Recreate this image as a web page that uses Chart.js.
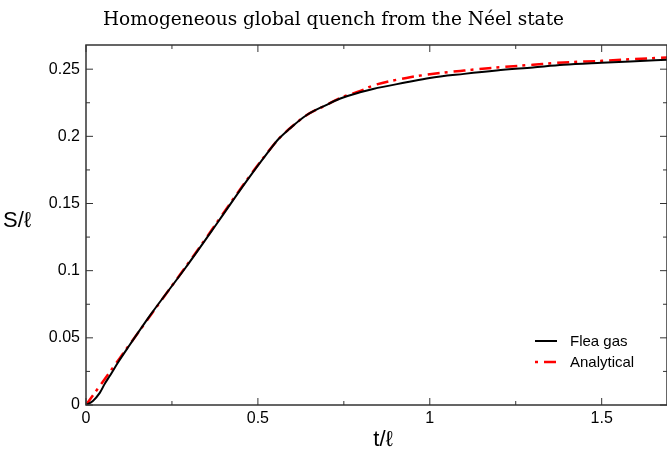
<!DOCTYPE html>
<html>
<head>
<meta charset="utf-8">
<script src="https://cdn.jsdelivr.net/npm/chart.js@4/dist/chart.umd.min.js"></script>
<style>
  html, body { margin: 0; padding: 0; background: #fff; }
  #wrap { width: 667px; height: 449px; }
</style>
</head>
<body>
<div id="wrap"><canvas id="myChart" width="667" height="449"></canvas></div>
<script>
// Flea gas (numerical) curve
var fleaT = [0, 0.02, 0.04, 0.055, 0.07, 0.094, 0.12, 0.19, 0.289, 0.386, 0.468, 0.529, 0.56, 0.592, 0.64, 0.7, 0.738, 0.8, 0.835, 0.932, 1.0, 1.1, 1.194, 1.3, 1.389, 1.5, 1.583, 1.69];
var fleaS = [0, 0.003, 0.009, 0.016, 0.022, 0.032, 0.042, 0.068, 0.102, 0.137, 0.167, 0.188, 0.198, 0.2056, 0.2155, 0.2235, 0.228, 0.233, 0.2353, 0.2402, 0.2435, 0.2465, 0.249, 0.2513, 0.2533, 0.2548, 0.2558, 0.257];

// Analytical curve
var anaT = [0, 0.3, 0.55, 0.58, 0.6, 0.64, 0.7, 0.738, 0.8, 0.835, 0.932, 1.0, 1.1, 1.194, 1.3, 1.389, 1.5, 1.583, 1.69];
var anaS = [0, 0.1065, 0.195, 0.203, 0.2075, 0.2155, 0.2235, 0.2285, 0.234, 0.2378, 0.2435, 0.2462, 0.249, 0.2512, 0.2533, 0.255, 0.2562, 0.2574, 0.2587];

var xMajor = [0, 0.5, 1, 1.5];
var xMinor = [0.25, 0.75, 1.25];
var yMajor = [0, 0.05, 0.1, 0.15, 0.2, 0.25];
var yMinor = [0.025, 0.075, 0.125, 0.175, 0.225];

var redDash = [12, 5, 3, 6];

function zip(xs, ys) {
  return xs.map(function (x, i) { return { x: x, y: ys[i] }; });
}

// frame, inward ticks, axis titles and legend
var decor = {
  id: "decor",
  afterDraw: function (chart) {
    var ctx = chart.ctx;
    var a = chart.chartArea;
    var xs = chart.scales.x, ys = chart.scales.y;
    ctx.save();
    ctx.strokeStyle = "#333";
    ctx.lineWidth = 1.5;
    ctx.strokeRect(a.left, a.top, a.right - a.left, a.bottom - a.top);
    ctx.lineWidth = 1;
    function xt(v, len) {
      var p = xs.getPixelForValue(v);
      ctx.beginPath();
      ctx.moveTo(p, a.bottom); ctx.lineTo(p, a.bottom - len);
      ctx.moveTo(p, a.top); ctx.lineTo(p, a.top + len);
      ctx.stroke();
    }
    function yt(v, len) {
      var p = ys.getPixelForValue(v);
      ctx.beginPath();
      ctx.moveTo(a.left, p); ctx.lineTo(a.left + len, p);
      ctx.moveTo(a.right, p); ctx.lineTo(a.right - len, p);
      ctx.stroke();
    }
    xMajor.forEach(function (v) { xt(v, 7); });
    xMinor.forEach(function (v) { xt(v, 4); });
    yMajor.forEach(function (v) { yt(v, 7); });
    yMinor.forEach(function (v) { yt(v, 4); });

    ctx.fillStyle = "#000";
    ctx.font = "22px 'Liberation Sans', Arial, sans-serif";
    ctx.textBaseline = "alphabetic";
    ctx.textAlign = "left";
    ctx.fillText("S/\u2113", 3, 227);
    ctx.textAlign = "center";
    ctx.fillText("t/\u2113", 383, 446);

    // legend
    ctx.font = "15px 'Liberation Sans', Arial, sans-serif";
    ctx.textAlign = "left";
    ctx.textBaseline = "middle";
    chart.data.datasets.forEach(function (ds, i) {
      var y = 341 + i * 21;
      ctx.strokeStyle = ds.borderColor;
      ctx.lineWidth = ds.borderWidth;
      ctx.setLineDash(ds.borderDash || []);
      ctx.lineDashOffset = ds.borderDash ? 17 : 0;
      ctx.beginPath();
      ctx.moveTo(535, y); ctx.lineTo(557, y);
      ctx.stroke();
      ctx.setLineDash([]);
      ctx.fillStyle = "#000";
      ctx.fillText(ds.label, 570, y + 1);
    });
    ctx.restore();
  }
};

var ctx = document.getElementById("myChart");
new Chart(ctx, {
  type: "line",
  data: {
    datasets: [
      {
        label: "Flea gas",
        data: zip(fleaT, fleaS),
        borderColor: "#000",
        borderWidth: 2,
        pointRadius: 0,
        fill: false,
        cubicInterpolationMode: "monotone"
      },
      {
        label: "Analytical",
        data: zip(anaT, anaS),
        borderColor: "#f00",
        borderWidth: 2.5,
        borderDash: redDash,
        pointRadius: 0,
        fill: false,
        cubicInterpolationMode: "monotone"
      }
    ]
  },
  options: {
    responsive: false,
    animation: false,
    layout: { padding: { left: 0, right: 0, top: 0, bottom: 0 } },
    plugins: {
      legend: { display: false },
      tooltip: { enabled: false },
      title: {
        display: true,
        text: "Homogeneous global quench from the N\u00e9el state",
        color: "#000",
        font: { family: "'DejaVu Serif', serif", size: 18.5, weight: "normal", lineHeight: 1.2 },
        padding: { top: 9, bottom: 13.8 }
      }
    },
    scales: {
      x: {
        type: "linear",
        min: 0,
        max: 1.69,
        afterBuildTicks: function (s) { s.ticks = xMajor.map(function (v) { return { value: v }; }); },
        afterFit: function (s) { s.height = 44; },
        grid: { display: false, drawTicks: false },
        border: { display: false },
        ticks: {
          color: "#000",
          padding: 4,
          maxRotation: 0,
          autoSkip: false,
          font: { family: "'Liberation Sans', Arial, sans-serif", size: 16 },
          callback: function (v) { return String(v); }
        }
      },
      y: {
        type: "linear",
        min: 0,
        max: 0.268,
        afterBuildTicks: function (s) { s.ticks = yMajor.map(function (v) { return { value: v }; }); },
        afterFit: function (s) { s.width = 86; },
        grid: { display: false, drawTicks: false },
        border: { display: false },
        ticks: {
          color: "#000",
          padding: 6,
          autoSkip: false,
          font: { family: "'Liberation Sans', Arial, sans-serif", size: 16 },
          callback: function (v) { return String(v); }
        }
      }
    }
  },
  plugins: [decor]
});
</script>
</body>
</html>
